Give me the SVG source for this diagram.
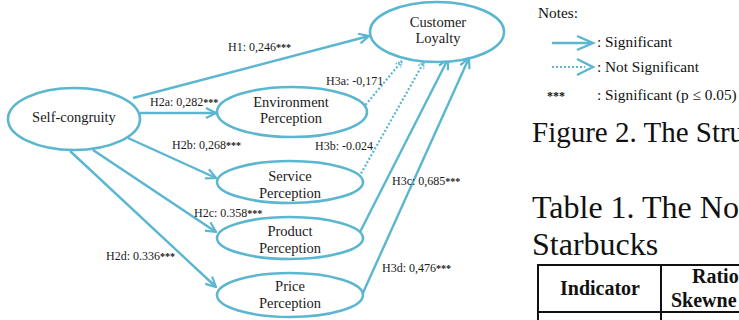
<svg xmlns="http://www.w3.org/2000/svg" width="739" height="320" viewBox="0 0 739 320">
<style>
.n{fill:#fff;stroke:#5bb6cf;stroke-width:2.6}
.c{fill:none;stroke:#5bb6cf;stroke-width:2.4}
.d{fill:none;stroke:#5bb6cf;stroke-width:2.2;stroke-dasharray:2 2}
.t{font-family:"Liberation Serif","Times New Roman",serif;font-size:14.5px;fill:#1a1a1a;text-anchor:middle}
.l{font-family:"Liberation Serif","Times New Roman",serif;font-size:12px;fill:#1a1a1a}
.s{font-weight:bold;font-size:10px}
.g{font-family:"Liberation Serif","Times New Roman",serif;font-size:15.3px;fill:#111}
.big{font-family:"Liberation Serif","Times New Roman",serif;font-size:32px;fill:#111}
.fig{font-size:29px}
.tb{font-family:"Liberation Serif","Times New Roman",serif;font-size:20px;font-weight:bold;fill:#111}
</style>
<defs>
<marker id="a" markerUnits="userSpaceOnUse" viewBox="0 0 12 12" refX="11" refY="6" markerWidth="12" markerHeight="12" orient="auto">
<path d="M1,1 L11,6 L1,11" fill="none" stroke="#5bb6cf" stroke-width="2.2"/>
</marker>
<marker id="ad" markerUnits="userSpaceOnUse" viewBox="0 0 8 8" refX="7" refY="4" markerWidth="8" markerHeight="8" orient="auto">
<path d="M1,1 L7,4 L1,7" fill="none" stroke="#5bb6cf" stroke-width="1.6" stroke-dasharray="1.5 1"/>
</marker>
</defs>
<g id="connectors">
<line class="c" x1="133" y1="98" x2="369" y2="36" marker-end="url(#a)"/>
<line class="c" x1="140" y1="113" x2="216" y2="113" marker-end="url(#a)"/>
<line class="c" x1="128" y1="138" x2="216" y2="178" marker-end="url(#a)"/>
<line class="c" x1="93" y1="150" x2="216" y2="232" marker-end="url(#a)"/>
<line class="c" x1="70" y1="151" x2="216" y2="287" marker-end="url(#a)"/>
<line class="d" x1="363" y1="108" x2="402" y2="61" marker-end="url(#ad)"/>
<line class="d" x1="359" y1="177" x2="424" y2="62" marker-end="url(#ad)"/>
<line class="c" x1="360" y1="232" x2="448" y2="59" marker-end="url(#a)"/>
<line class="c" x1="362" y1="295" x2="469" y2="58" marker-end="url(#a)"/>
</g>
<g id="labels">
<text class="l" x="228" y="51">H1: 0,246<tspan class="s">***</tspan></text>
<text class="l" x="150" y="106">H2a: 0,282<tspan class="s">***</tspan></text>
<text class="l" x="172" y="149">H2b: 0,268<tspan class="s">***</tspan></text>
<text class="l" x="194" y="217">H2c: 0.358<tspan class="s">***</tspan></text>
<text class="l" x="106" y="260">H2d: 0.336<tspan class="s">***</tspan></text>
<text class="l" x="326" y="85">H3a: -0,171</text>
<text class="l" x="315" y="150">H3b: -0.024</text>
<text class="l" x="392" y="185">H3c: 0,685<tspan class="s">***</tspan></text>
<text class="l" x="382" y="272">H3d: 0,476<tspan class="s">***</tspan></text>
</g>
<g id="self-congruity">
<ellipse class="n" cx="74" cy="119" rx="66" ry="31"/>
<text class="t" x="74" y="122">Self-congruity</text>
</g>
<g id="environment">
<ellipse class="n" cx="292" cy="112" rx="75" ry="25"/>
<text class="t" x="291" y="107">Environment</text>
<text class="t" x="291" y="123">Perception</text>
</g>
<g id="service">
<ellipse class="n" cx="290" cy="182" rx="73" ry="21"/>
<text class="t" x="290" y="181">Service</text>
<text class="t" x="290" y="198">Perception</text>
</g>
<g id="product">
<ellipse class="n" cx="290" cy="238" rx="73" ry="21"/>
<text class="t" x="290" y="236">Product</text>
<text class="t" x="290" y="253">Perception</text>
</g>
<g id="price">
<ellipse class="n" cx="290" cy="295" rx="73" ry="22"/>
<text class="t" x="290" y="291">Price</text>
<text class="t" x="290" y="308">Perception</text>
</g>
<g id="customer-loyalty">
<ellipse class="n" cx="437" cy="32" rx="67" ry="30"/>
<text class="t" x="438" y="27">Customer</text>
<text class="t" x="438" y="43">Loyalty</text>
</g>
<g id="legend">
<text class="g" x="538" y="18">Notes:</text>
<line class="c" x1="552" y1="43" x2="592" y2="43"/>
<polyline class="c" points="577,36 593,43 577,50"/>
<text class="g" x="597" y="47">: Significant</text>
<line class="d" x1="552" y1="67" x2="585" y2="67"/>
<polyline class="c" points="577,59 593,67 577,75"/>
<text class="g" x="597" y="72">: Not Significant</text>
<text class="g" x="547" y="100" style="font-weight:bold;font-size:12px">***</text>
<text class="g" x="597" y="100">: Significant (p ≤ 0.05)</text>
</g>
<text class="big fig" x="532" y="142">Figure 2. The Stru</text>
<text class="big" x="532" y="218">Table 1. The No</text>
<text class="big" x="532" y="255">Starbucks</text>
<g id="table" fill="none" stroke="#111" stroke-width="2">
<line x1="538" y1="265" x2="739" y2="265"/>
<line x1="538" y1="264" x2="538" y2="320"/>
<line x1="661" y1="265" x2="661" y2="320"/>
<line x1="538" y1="312" x2="739" y2="312"/>
</g>
<text class="tb" x="600" y="295" text-anchor="middle">Indicator</text>
<text class="tb" x="692" y="283">Ratio</text>
<text class="tb" x="671" y="307">Skewne</text>
</svg>
